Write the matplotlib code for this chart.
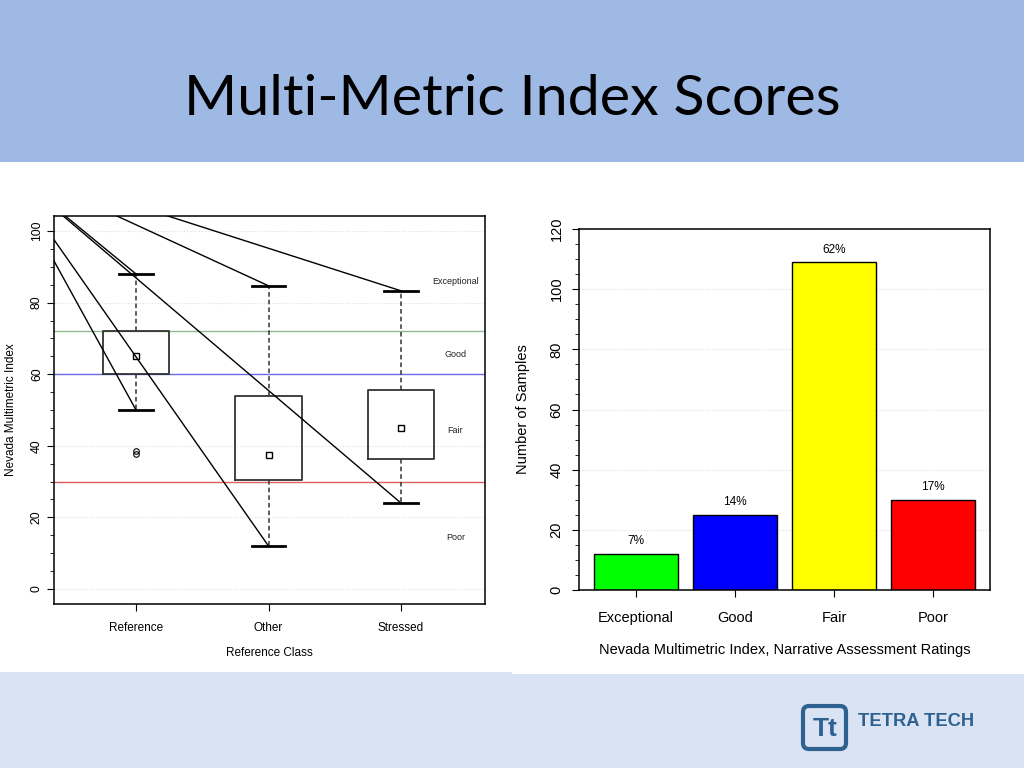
"""Slide: Multi-Metric Index Scores (boxplot by reference class + rating counts)."""

import matplotlib
matplotlib.use("Agg")
import matplotlib.pyplot as plt
from matplotlib.patches import Rectangle, FancyBboxPatch
from matplotlib.ticker import MultipleLocator


# Left panel: index scores by reference class
CLASSES = ["Reference", "Other", "Stressed"]
WHISKER_HI = [88.0, 84.7, 83.3]
Q3 = [72.0, 54.0, 55.5]
MIDDLE = [65.0, 37.5, 45.0]
Q1 = [60.0, 30.5, 36.2]
WHISKER_LO = [50.0, 12.0, 24.0]
OUTLIERS = [[37.8, 38.6], [], []]

THRESHOLDS = [72, 60, 30]
THRESHOLD_COLORS = ["#8fba8f", "#6b6be6", "#e06060"]
BAND_NAMES = ["Exceptional", "Good", "Fair", "Poor"]
BAND_LABEL_Y = [85.8, 65.6, 44.4, 14.5]

# Right panel: number of samples per narrative rating
RATINGS = ["Exceptional", "Good", "Fair", "Poor"]
COUNTS = [12, 25, 109, 30]
PERCENT_LABELS = ["7%", "14%", "62%", "17%"]
BAR_COLORS = ["#00ff00", "#0000ff", "#ffff00", "#ff0000"]

FIG_W, FIG_H = 1024, 768
SANS = ["Liberation Sans", "DejaVu Sans"]


def px_axes(fig, x0, y0, x1, y1):
    """Add an axes given its pixel box (top-left origin)."""
    return fig.add_axes([x0 / FIG_W, 1 - y1 / FIG_H, (x1 - x0) / FIG_W, (y1 - y0) / FIG_H])


def draw_background(fig):
    bg = fig.add_axes([0, 0, 1, 1], zorder=-5)
    bg.set_xlim(0, FIG_W)
    bg.set_ylim(FIG_H, 0)
    bg.axis("off")
    bg.add_patch(Rectangle((0, 0), FIG_W, 162, color="#9eb9e4", lw=0))
    bg.add_patch(Rectangle((0, 162), FIG_W, 510, color="white", lw=0))
    bg.add_patch(Rectangle((0, 672), FIG_W, 96, color="#dae3f3", lw=0))
    bg.add_patch(Rectangle((512, 672), 512, 2, color="white", lw=0))

    bg.text(512, 115, "Multi-Metric Index Scores", ha="center", va="baseline",
            fontsize=41.3, family=["Lato", "DejaVu Sans"], color="black")

    # Tetra Tech logo
    bg.add_patch(FancyBboxPatch((803, 706), 43, 43, boxstyle="round,pad=0,rounding_size=6",
                                fc="#dae3f3", ec="#2f6190", lw=3))
    bg.text(825, 729, "Tt", ha="center", va="center", fontsize=19, fontweight="bold",
            family=SANS, color="#2f6190")
    bg.text(858, 722, "TETRA TECH", ha="left", va="center", fontsize=13.2, fontweight="bold",
            family=SANS, color="#2f6190")


def draw_boxplot(fig):
    ax = px_axes(fig, 54, 216, 485, 604)
    positions = [1, 2, 3]
    stats = []
    for i, name in enumerate(CLASSES):
        stats.append({
            "label": name, "med": MIDDLE[i], "mean": MIDDLE[i],
            "q1": Q1[i], "q3": Q3[i],
            "whislo": WHISKER_LO[i], "whishi": WHISKER_HI[i],
            "fliers": OUTLIERS[i],
        })

    for value, color in zip(THRESHOLDS, THRESHOLD_COLORS):
        ax.axhline(value, color=color, lw=1, zorder=1)

    ax.bxp(stats, positions=positions, widths=0.5, capwidths=0.25, showmeans=True,
           boxprops=dict(color="#333333", lw=1.3),
           whiskerprops=dict(color="#333333", lw=1.1, linestyle=(0, (3, 2))),
           capprops=dict(color="black", lw=2),
           medianprops=dict(linestyle="none"),
           meanprops=dict(marker="s", markerfacecolor="white", markeredgecolor="black",
                          markersize=4, markeredgewidth=1),
           flierprops=dict(marker="o", markerfacecolor="none", markeredgecolor="black",
                           markersize=4, markeredgewidth=0.8))

    # leader lines from the upper-left corner to every whisker end
    origin_x, origin_y = -0.03, 119.3
    for pos, lo, hi in zip(positions, WHISKER_LO, WHISKER_HI):
        for end in (hi, lo):
            ax.plot([origin_x, pos], [origin_y, end], color="black", lw=1, zorder=3)

    for name, y in zip(BAND_NAMES, BAND_LABEL_Y):
        ax.text(3.41, y, name, ha="center", va="center", fontsize=6.5, family=SANS,
                color="#222222")

    ax.set_xlim(0.381, 3.634)
    ax.set_ylim(-4.2, 104.2)
    ax.set_xticks(positions)
    ax.set_xticklabels(CLASSES, fontsize=8.5, family=SANS)
    ax.yaxis.set_major_locator(MultipleLocator(20))
    ax.yaxis.set_minor_locator(MultipleLocator(5))
    ax.grid(axis="y", which="major", color="#dddddd", linestyle=":", lw=0.8)
    ax.set_axisbelow(True)
    plt.setp(ax.get_yticklabels(), rotation=90, va="center", fontsize=8.8, family=SANS)
    ax.tick_params(axis="x", length=5, pad=8)
    ax.tick_params(axis="y", which="major", length=5, pad=3)
    ax.tick_params(axis="y", which="minor", length=3)
    for spine in ax.spines.values():
        spine.set_linewidth(1.1)

    ax.set_xlabel("Reference Class", fontsize=8.5, family=SANS, va="center")
    ax.xaxis.set_label_coords(0.5, (604 - 653) / 388)
    ax.set_ylabel("Nevada Multimetric Index", fontsize=8.5, family=SANS, va="center")
    ax.yaxis.set_label_coords((11 - 54) / 431, 0.5)


def draw_bars(fig):
    ax = px_axes(fig, 579, 229, 990, 590)
    x = list(range(len(RATINGS)))
    bars = ax.bar(x, COUNTS, width=0.84, color=BAR_COLORS, edgecolor="black", lw=1, zorder=2)
    for rect, label in zip(bars, PERCENT_LABELS):
        ax.annotate(label, (rect.get_x() + rect.get_width() / 2, rect.get_height()),
                    xytext=(0, 9), textcoords="offset points", ha="center", va="center",
                    fontsize=8.5, family=SANS)

    ax.set_xlim(-0.576, 3.576)
    ax.set_ylim(0, 120)
    ax.set_xticks(x)
    ax.set_xticklabels(RATINGS, fontsize=10.5, family=SANS)
    ax.yaxis.set_major_locator(MultipleLocator(20))
    ax.yaxis.set_minor_locator(MultipleLocator(5))
    ax.grid(axis="y", which="major", color="#dddddd", linestyle=":", lw=0.8)
    ax.set_axisbelow(True)
    plt.setp(ax.get_yticklabels(), rotation=90, va="center", fontsize=10.5, family=SANS)
    ax.tick_params(axis="x", length=5, pad=10)
    ax.tick_params(axis="y", which="major", length=5, pad=6)
    ax.tick_params(axis="y", which="minor", length=3)
    for spine in ax.spines.values():
        spine.set_linewidth(1.1)

    ax.set_xlabel("Nevada Multimetric Index, Narrative Assessment Ratings", fontsize=10.5,
                  family=SANS, va="center")
    ax.xaxis.set_label_coords(0.5, (590 - 650) / 361)
    ax.set_ylabel("Number of Samples", fontsize=10.5, family=SANS, va="center")
    ax.yaxis.set_label_coords((523 - 579) / 411, 0.5)


def main():
    fig = plt.figure(figsize=(FIG_W / 100, FIG_H / 100), dpi=100)
    draw_background(fig)
    draw_boxplot(fig)
    draw_bars(fig)
    fig.savefig("out.png", dpi=100)
    plt.close(fig)


if __name__ == "__main__":
    main()
